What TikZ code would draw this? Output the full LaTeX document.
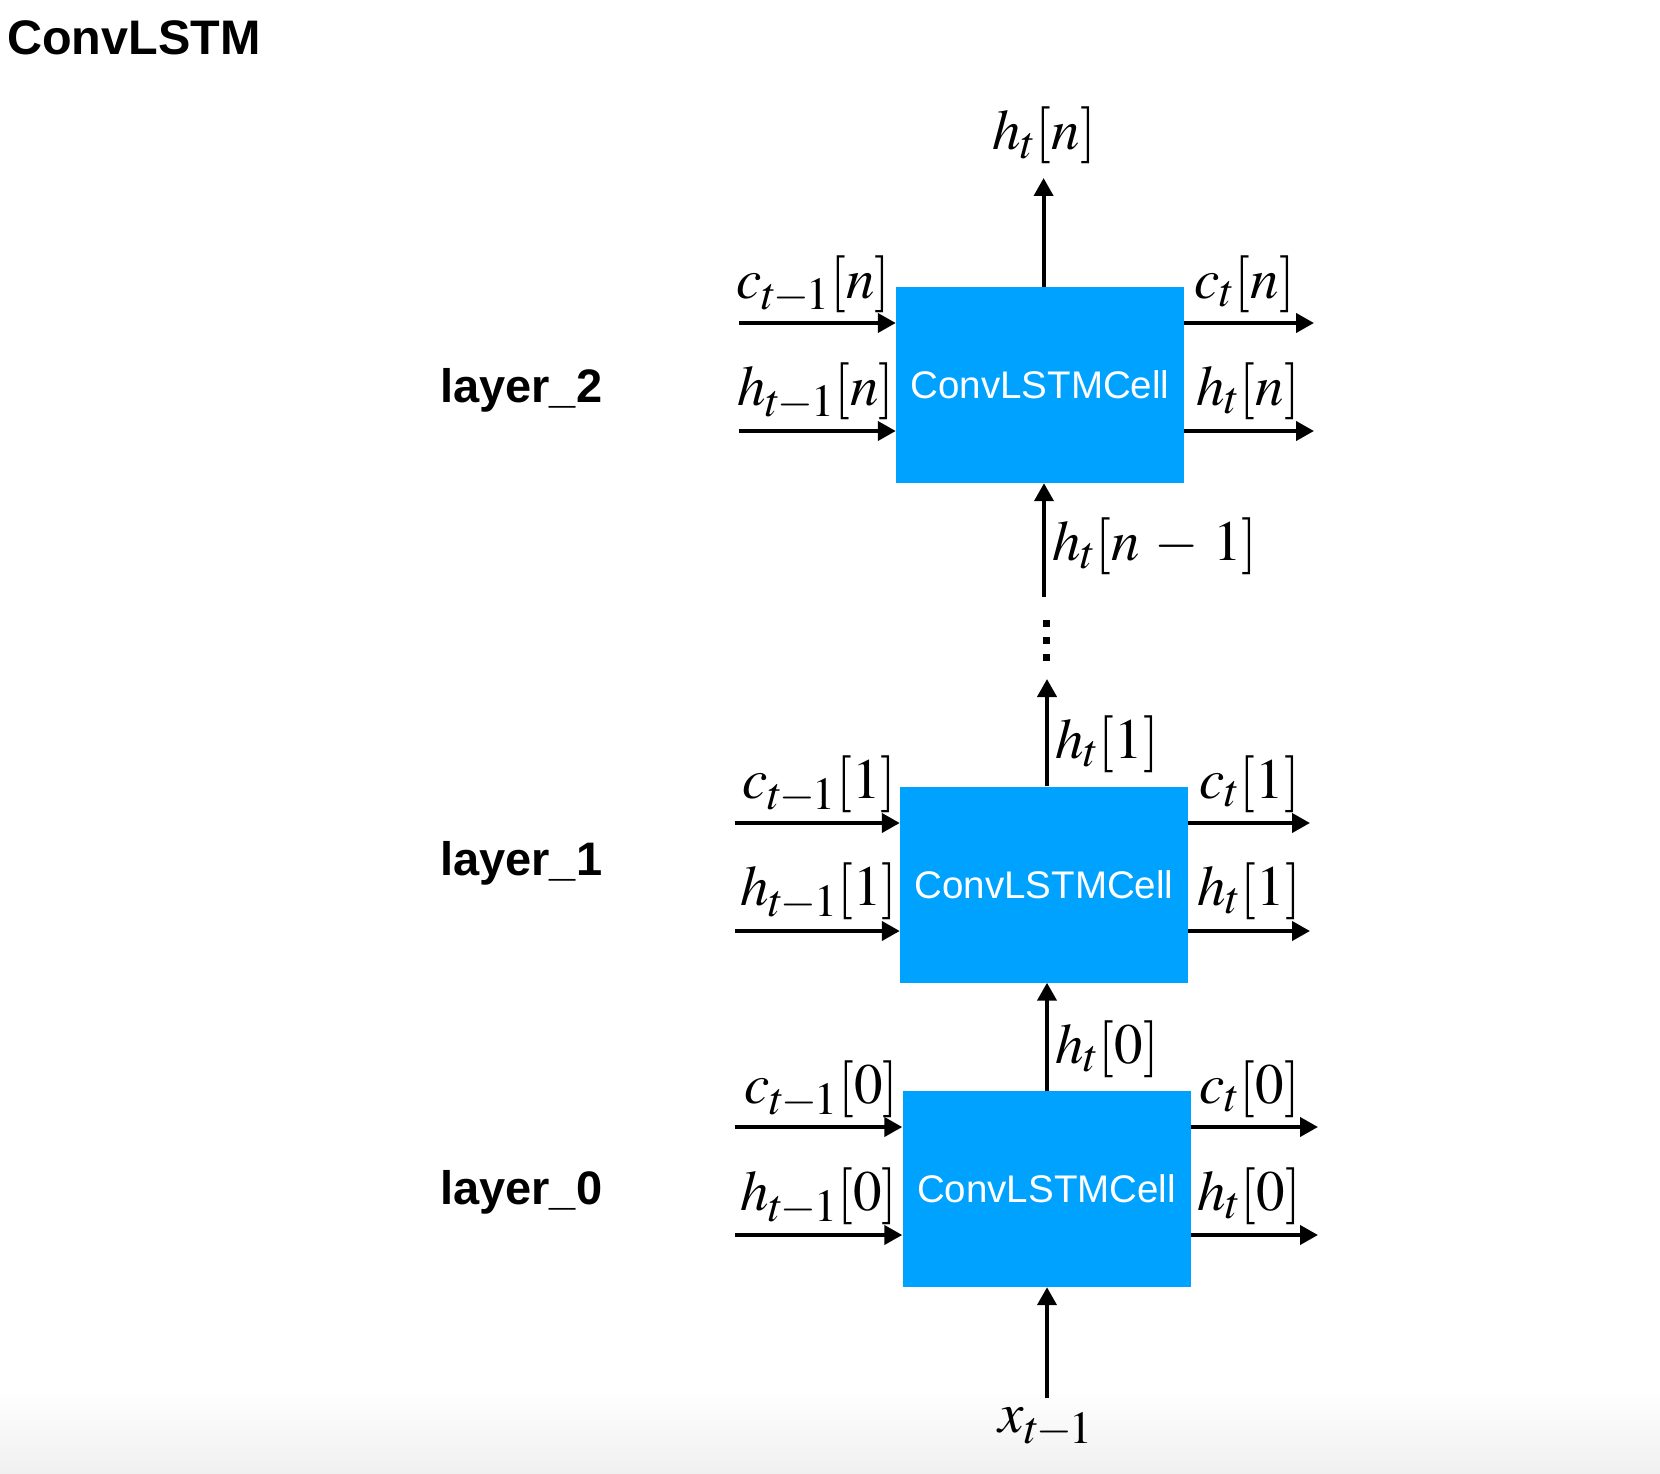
\documentclass[tikz,border=0pt]{standalone}
\usepackage{mathptmx}
\usepackage[no-math]{fontspec}
\newfontfamily\hvfont{Liberation Sans}
\usetikzlibrary{arrows.meta}
\definecolor{cellblue}{RGB}{0,162,255}
\DeclareMathSizes{57}{57}{46}{33}
\begin{document}
\begin{tikzpicture}[x=1pt,y=-1pt,
  cell/.style={fill=cellblue, inner sep=0pt, minimum width=288pt, minimum height=196pt,
    text=white, font=\hvfont\fontsize{38.5}{40}\selectfont},
  arr/.style={line width=4pt, -{Triangle[length=18pt,width=19pt]}},
  mlab/.style={inner sep=0pt, anchor=base west, font=\fontsize{57}{60}\selectfont},
  lay/.style={inner sep=0pt, anchor=base west, font=\hvfont\bfseries\fontsize{47}{50}\selectfont}]
% background
\fill[white] (0,0) rectangle (1660,1474);
\useasboundingbox (0,0) rectangle (1660,1474);
\shade[top color=white, bottom color=black!6] (0,1390) rectangle (1660,1474);

% title and layer labels
\node[inner sep=0pt, anchor=base west, font=\hvfont\bfseries\fontsize{48.5}{50}\selectfont] (title) at (7,55) {ConvLSTM};
\node[lay] (L2) at (440,402) {layer\_2};
\node[lay] (L1) at (440,875) {layer\_1};
\node[lay] (L0) at (440,1204) {layer\_0};

% cells
\node[cell] (B2) at (1040,385) {ConvLSTMCell};
\node[cell] (B1) at (1044,884.5) {ConvLSTMCell};
\node[cell] (B0) at (1046.5,1189) {ConvLSTMCell};

% ---- layer 2 ----
\coordinate (c2in) at (739,323);
\coordinate (h2in) at (739,431);
\coordinate (c2out) at (1314,323);
\coordinate (h2out) at (1314,431);
\coordinate (h2top) at (1043.6,178);
\draw[arr] (c2in) -- (c2in -| B2.west);
\draw[arr] (h2in) -- (h2in -| B2.west);
\draw[arr] (c2out -| B2.east) -- (c2out);
\draw[arr] (h2out -| B2.east) -- (h2out);
\draw[arr] (h2top |- B2.north) -- (h2top);
\node[mlab, anchor=base] (lh2top) at (1044,150) {$h_t[n]$};
\node[mlab] (lc2in) at (736,298) {$c_{t\mkern-1mu-\mkern-1mu1}[n]$};
\node[mlab] (lh2in) at (737,405) {$h_{t\mkern-1mu-\mkern-1mu1}[n]$};
\node[mlab] (lc2out) at (1194,298) {$c_t[n]$};
\node[mlab] (lh2out) at (1196,405) {$h_t[n]$};

% ---- between layer 1 and layer 2 ----
\coordinate (hn1) at (1044,597);
\draw[arr] (hn1) -- (hn1 |- B2.south);
\node[mlab] (lhn1) at (1052,560) {$\medmuskip=4.5mu h_t[n-1]$};
\fill (1042.5,619.5) rectangle +(7,7);
\fill (1042.5,636.5) rectangle +(7,7);
\fill (1042.5,653.5) rectangle +(7,7);
\coordinate (h1top) at (1047,679);
\draw[arr] (h1top |- B1.north) -- (h1top);
\node[mlab] (lh1top) at (1055,758) {$h_t[1]$};

% ---- layer 1 ----
\coordinate (c1in) at (735,823);
\coordinate (h1in) at (735,931);
\coordinate (c1out) at (1310,823);
\coordinate (h1out) at (1310,931);
\draw[arr] (c1in) -- (c1in -| B1.west);
\draw[arr] (h1in) -- (h1in -| B1.west);
\draw[arr] (c1out -| B1.east) -- (c1out);
\draw[arr] (h1out -| B1.east) -- (h1out);
\node[mlab] (lc1in) at (742,798) {$c_{t\mkern-1mu-\mkern-1mu1}[1]$};
\node[mlab] (lh1in) at (740,905) {$h_{t\mkern-1mu-\mkern-1mu1}[1]$};
\node[mlab] (lc1out) at (1199,798) {$c_t[1]$};
\node[mlab] (lh1out) at (1197,905) {$h_t[1]$};

% ---- between layer 0 and layer 1 ----
\coordinate (h0up) at (1047,1000);
\draw[arr] (h0up |- B0.north) -- (h0up |- B1.south);
\node[mlab] (lh0top) at (1055,1063) {$h_t[0]$};

% ---- layer 0 ----
\coordinate (c0in) at (735,1127);
\coordinate (h0in) at (735,1235);
\coordinate (c0out) at (1318,1127);
\coordinate (h0out) at (1318,1235);
\draw[arr] (c0in) -- (c0in -| B0.west);
\draw[arr] (h0in) -- (h0in -| B0.west);
\draw[arr] (c0out -| B0.east) -- (c0out);
\draw[arr] (h0out -| B0.east) -- (h0out);
\node[mlab] (lc0in) at (744,1103) {$c_{t\mkern-1mu-\mkern-1mu1}[0]$};
\node[mlab] (lh0in) at (740,1210) {$h_{t\mkern-1mu-\mkern-1mu1}[0]$};
\node[mlab] (lc0out) at (1199,1103) {$c_t[0]$};
\node[mlab] (lh0out) at (1197,1210) {$h_t[0]$};

% ---- input ----
\coordinate (xin) at (1047,1398);
\draw[arr] (xin) -- (xin |- B0.south);
\node[mlab, anchor=base] (lxin) at (1046,1432) {$x_{t\mkern-1mu-\mkern-1mu1}$};
\end{tikzpicture}
\end{document}
